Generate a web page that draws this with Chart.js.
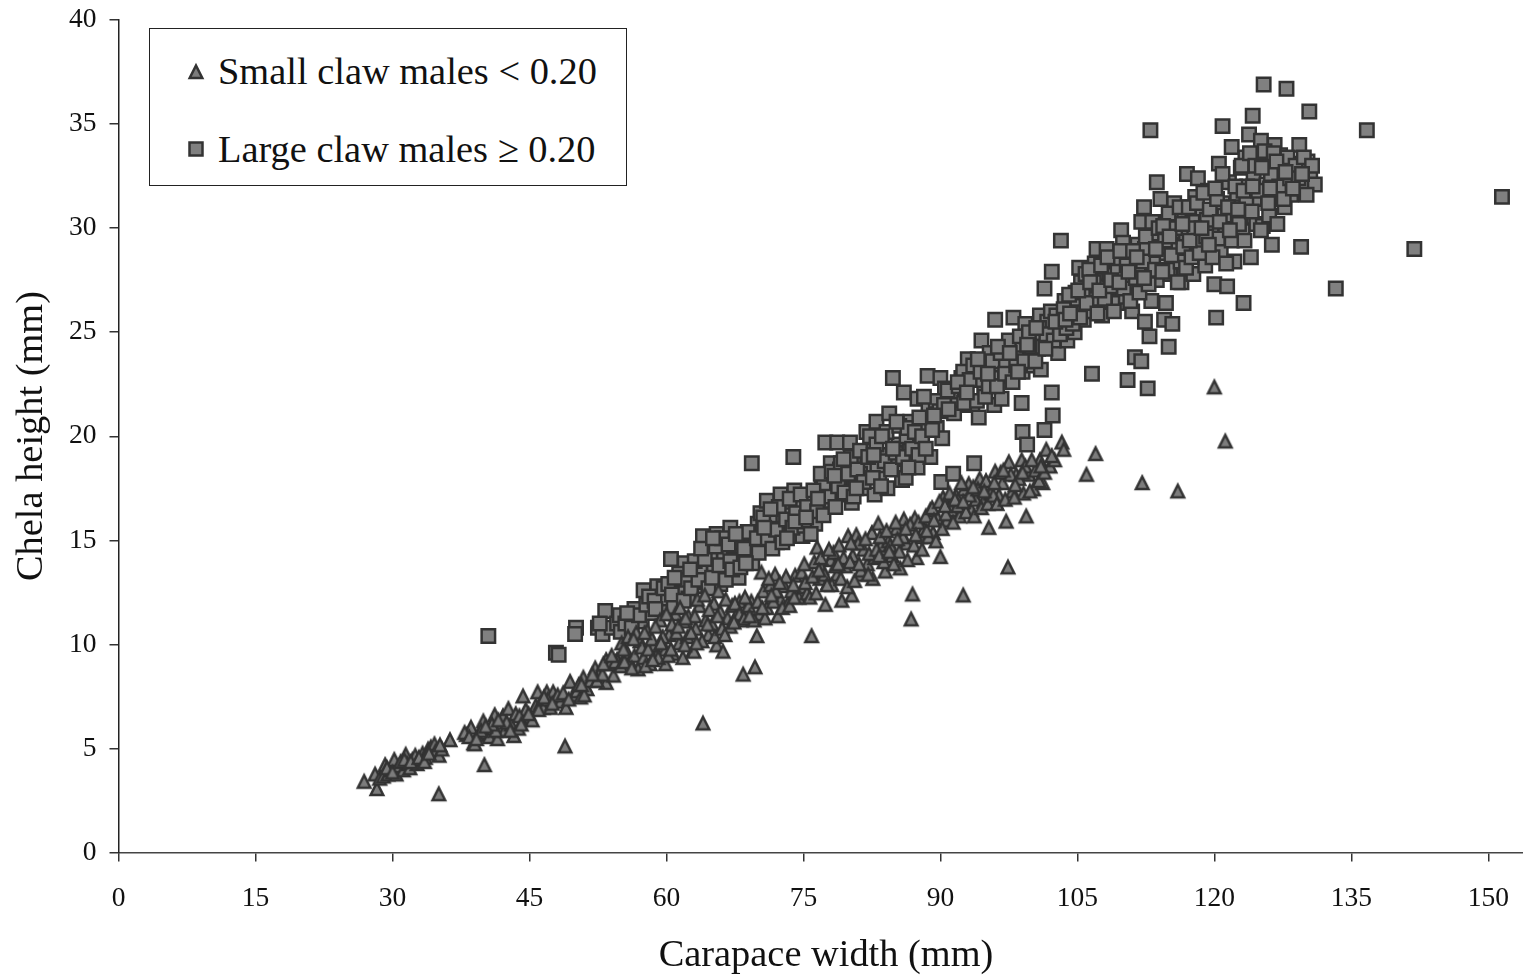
<!DOCTYPE html>
<html>
<head>
<meta charset="utf-8">
<title>Chela height by carapace width</title>
<script src="https://cdn.jsdelivr.net/npm/chart.js@4"></script>
<style>
    html, body { margin: 0; padding: 0; background: #fff; }
    #wrap { position: relative; width: 1523px; height: 979px; overflow: hidden; }
    #legend-box {
        position: absolute; left: 149px; top: 28px; width: 476px; height: 156px;
        border: 1.5px solid #222; background: #fff; color: #111;
        font-family: "Liberation Serif", serif; font-size: 38.4px; white-space: nowrap;
    }
    .legend-row { position: absolute; left: 68px; line-height: 44px; }
    .legend-row svg { position: absolute; left: -32px; top: 12px; }
</style>
</head>
<body>
<div id="wrap">
    <canvas id="myChart" width="1523" height="979"></canvas>
    <div id="legend-box">
        <div class="legend-row" style="top: 20px;">
            <svg width="20" height="20"><polygon points="10,4.5 16.3,17 3.7,17" fill="#7c7c7c" stroke="#333" stroke-width="2.5"/></svg>
            <span id="legend-small"></span>
        </div>
        <div class="legend-row" style="top: 98px;">
            <svg width="20" height="20"><rect x="3.5" y="3.5" width="13" height="13" fill="#808080" stroke="#333" stroke-width="2.5"/></svg>
            <span id="legend-large"></span>
        </div>
    </div>
</div>
<script>
const small_label = 'Small claw males < 0.20';
const large_label = 'Large claw males \u2265 0.20';
const x_title = 'Carapace width (mm)';
const y_title = 'Chela height (mm)';

// [carapace width, chela height]
const small_claw = [
    [26.9,3.45],[28.1,3.8],[28.3,3.1],[28.6,3.6],[29.2,4.25],[29.0,3.7],[29.5,3.8],[29.9,4.0],[30.2,4.5],[30.4,3.8],
    [30.7,4.2],[31.2,4.0],[31.45,4.75],[31.6,4.3],[31.9,4.1],[32.2,4.5],[32.5,4.7],[32.7,4.3],[33,4.5],[33.3,4.8],
    [33.6,4.6],[33.9,5.0],[34.2,5.1],[34.6,5.25],[34.7,4.9],[35.1,4.7],[35.07,2.85],[35.4,5.0],[36.3,5.45],
    [38.1,5.7],[38.6,6.05],[38.9,5.3],[39,5.25],[39.4,5.7],[39.95,6.35],[40.07,4.25],[40.3,5.8],[40.6,5.6],[41,6.0],
    [41.2,6.65],[41.5,5.5],[41.8,6.1],[42.1,6.6],[42.3,5.9],[42.7,6.95],[43,6.2],[43.3,5.65],[43.5,6.7],[43.8,6.0],
    [44.3,7.55],[45,6.5],[45.3,6.4],[45.7,7.1],[45.9,7.75],[46.2,7.2],[46.5,7.0],[46.9,7.75],[47.3,7.0],[47.6,7.75],
    [47.9,7.4],[48.4,7.3],[48.9,5.15],[49,7.0],[49.45,8.25],[49.8,7.6],[50.2,7.8],[50.9,8.45],[50.6,7.5],[51.3,7.9],
    [52.2,8.9],[52.6,8.6],[53.4,9.3],[53.4,8.2],[54.2,8.55],[54.6,9.3],[55.1,10.1],[55.7,9.65],[56,9.2],[56.5,9.5],
    [56.9,8.85],[57.1,10.2],[57.5,9.4],[57.9,10.7],[58.2,9.1],[58.6,10],[58.9,9.5],[59.3,11.2],[59.9,9.8],[59.9,9.1],
    [60.3,10.5],[60.7,9.6],[61,11.5],[61.4,10.1],[61.8,9.4],[61.9,11.15],[62.3,10.4],[62.9,9.75],[63.2,10.8],[63.6,11.9],
    [63,9.7],[64,6.25],[64.3,11.2],[64.6,10.5],[65,11],[65.2,12],[65.5,10],[65.9,11.6],[66.2,9.7],[66.7,11.3],
    [67.2,11.9],[67.6,11.4],[68,12.1],[68.4,8.6],[68.2,11.2],[68.8,11.7],[69.3,12.1],[69.7,8.95],[69.9,10.45],[70.2,11.5],
    [70.4,13.5],[70.6,12.6],[71,11.8],[71.4,12.9],[71.9,13.4],[72.2,11.4],[72.5,12.2],[72.9,12.85],[73.3,12],[73.7,12.6],
    [74.1,13.35],[74.5,12.3],[75,12.8],[75.4,12.5],[75.9,10.45],[76.2,14],[76.5,14.7],[76.8,13.2],[77,13.7],[77.4,11.95],
    [77.7,13],[78,14.1],[78.3,14.45],[78.7,13.4],[79.2,12.15],[79.6,13.8],[79.9,15.25],[80.3,12.4],[80.4,14.3],[80.8,15.3],
    [81.2,13.4],[81.6,14.6],[82,13.9],[82.5,15.4],[82.8,14.2],[83.2,15.85],[83.5,14.8],[83.96,13.55],[84.3,15],[84.7,14.3],
    [85.2,15.6],[85.6,13.7],[86,16.05],[86.3,14.9],[86.8,11.25],[86.95,12.45],[87.2,16.1],[87.4,14.2],[87.8,15.2],[88.2,15.6],
    [88.9,16.5],[89.2,15.4],[89.7,16.1],[90,14.25],[90.3,17.1],[90.7,16],[91.2,16.5],[91.7,17.2],[92.1,16.2],[92.5,12.4],
    [92.6,17.5],[93.1,17.75],[93.4,16.5],[93.9,17],[94.3,18],[94.7,16.9],[95.3,15.65],[95.5,17.3],[96,18.35],[96.4,17.2],
    [96.8,17.8],[97.2,15.95],[97.4,13.75],[97.5,18.8],[97.9,17.4],[98.3,18.2],[98.9,18.9],[99.1,17.3],[99.4,16.2],[99.7,18.2],
    [100.2,17.5],[100.9,18.9],[101.2,17.8],[101.6,19.4],[102,18.6],[102.5,18.9],[103.3,19.75],[103.5,19.4],
    [106,18.2],[107,19.2],[112.1,17.8],[116,17.4],[120,22.4],[121.2,19.8],
    // second pass over the crowded parts of the band
    [50.4,8.1],[51,7.6],[51.7,8.3],[52.4,8.3],[53,8.6],[53.8,9.1],[54.4,9.2],[55,9],[47,7.4],[48.1,7.6],
    [46,6.9],[44.6,6.9],[43.9,6.6],[42.5,6.3],[41.3,5.9],[40.9,6.2],[39.7,5.9],[37.9,5.8],[38.4,5.6],
    [55.4,9.2],[55.8,10.4],[56.2,8.9],[56.7,10.6],[57.3,9.9],[57.7,9],[58,9.8],[58.4,10.3],[58.8,10.9],[59.1,9.4],
    [59.6,10.4],[60,11.5],[60.2,9.5],[60.6,11],[61.1,10.6],[61.5,11.8],[62,10],[62.4,11.4],[62.7,10.6],[63.1,11.4],
    [63.4,12.2],[63.9,10.2],[64.2,12.4],[64.7,11.7],[65.3,10.4],[65.7,12.6],[66.1,10.8],[66.5,12.2],[67,10.9],[67.5,12],
    [68,11.5],[68.5,11.3],[69,11.9],[69.6,11.2],[70,12.1],[70.8,11.3],[71.2,13.2],[71.7,12.1],[72,12.6],[72.7,11.8],
    [73.1,13.3],[73.5,11.9],[74,12.3],[74.8,13.5],[75.2,13],[75.7,12.3],
    [76,13.3],[76.4,12.5],[76.9,14.2],[77.3,13.4],[77.8,14.6],[78.1,12.9],[78.5,13.8],[78.9,14.8],[79.1,13.2],[79.4,14.2],
    [79.8,12.8],[80.1,14],[80.6,13.1],[81,14.9],[81.3,13.6],[81.8,15.1],[82.2,14.4],[82.6,13.2],[83,14.6],[83.4,15.2],
    [83.8,14],[84.1,15.5],[84.5,14.8],[84.9,13.9],[85.1,15.9],[85.5,14.5],[85.9,15.2],[86.4,14.1],[86.7,15.8],[87.1,14.8],
    [87.6,15.9],[88,14.6],[88.4,16.2],[88.7,15.2],[89.1,16.6],[89.5,15],[89.9,16.9],[90.2,15.6],[90.6,16.3],[91,17.3],
    [91.4,15.9],[91.9,16.7],[92.3,17.8],[92.8,16.4],[93.2,17.2],[93.7,16.2],[94.1,17.5],[94.5,16.6],[95,17.9],[95.2,16.8],
    [95.8,17.2],[96.2,16.8],[96.6,18.3],[97.1,17],[97.7,18.2],[98.1,17.1],[98.6,18],[99.3,18.6],[99.8,17.4],[100.4,18.4],
    [100.8,17.9],[101.4,18.3],
    // third pass
    [29.4,4.1],[30,3.9],[30.9,4.4],[31.3,4.5],[32,4.4],[32.9,4.6],[33.5,4.4],[34,4.8],[35.2,5.2],[39.2,5.5],
    [40.2,6.1],[41.6,6.4],[42.9,5.9],[44.1,6.2],[44.9,6.7],[46.6,7.5],[47.5,7.2],[48.7,7.7],[49.3,7.4],[50.7,8.1],
    [51.9,8.6],[53.1,9.1],[54,9.5],[55.3,9.8],[56.4,10.3],[57.6,10.6],[58.5,9.3],[59.4,10.1],[60.5,9.8],[61.3,10.9],
    [62.1,11.3],[63.3,10.1],[64.5,11],[65.6,11.4],[66.4,10.5],[67.4,11.1],[68.6,12.3],[69.1,11.4],[70.5,11.8],[71.5,12.4],
    [72.4,13],[73.9,12.9],[75.1,13.9],[76.7,13.6],[77.6,12.9],[78.8,13.9],[80.2,14.9],[81.1,13.9],[82.1,13.4],[83.3,14.3],
    [84.4,14.5],[85.3,15.1],[86.2,15.6],[87.3,15.3],[88.5,15.5],[89.3,16],[90.5,16.7],[91.6,17],[92.5,16.9],[93.6,17.6],
    [94.8,17.4],[95.9,17.8],[96.9,18.4],[98.2,17.7],[99,18.3],[100,18.9],[101,18.6],[102.2,19.1]
];
const large_claw = [
    [40.5,10.4],[47.9,9.6],[48.2,9.5],[50.1,10.8],[50,10.5],[52.5,10.8],[53,10.5],[53.3,11.6],[54,10.8],[54.6,11],
    [55,10.6],[56,11.2],[56.5,11.7],[57.3,11.1],[57.5,12.6],[58.4,11.5],[59,12.8],[59.4,11.9],[60,12.2],[60.5,14.1],
    [60.8,11.8],[61.2,13],[61.7,12.5],[62,13.9],[62.4,12.2],[62.9,13.4],[63.3,12.8],[63.7,13.6],[64,15.2],[64.4,13],
    [64.8,14.2],[65.5,15.3],[65.2,13.6],[65.9,12.9],[66.3,14.3],[66.7,13.5],[67,15.6],[67.4,14.7],[67.9,13.2],[68.3,15],
    [68.8,14.2],[69.35,18.7],[69.2,15.3],[69.7,14.6],[70,15.8],[70.3,16.3],[70.8,14.8],[71,16.9],[71.3,15.6],[71.8,16.2],
    [72.1,14.9],[72.5,17.2],[72.9,15.9],[73.3,16.5],[73.7,15.2],[73.9,19],[74,17.4],[74.4,16],[74.9,15.2],[75.2,17],
    [75.6,16.1],[76,16.8],[76.3,15.8],[76.7,17.3],[77,18],[77.4,19.7],[77.6,16.9],[78,18.7],[78.3,17.6],[78.7,19.7],
    [78.9,18],[79.3,17.2],[79.7,18.4],[80.1,19.7],[80.3,16.8],[80.6,17.9],[81,18.9],[81.4,17.5],[81.9,20.2],[82,18.6],
    [82.4,19.3],[82.8,17.2],[83,20.7],[83.3,18.2],[83.7,19.1],[84.4,21.1],[84.2,17.5],[84.8,22.8],[85,18.6],[85.4,19.6],
    [86,22.1],[85.8,17.9],[86.3,20],[86.7,20.7],[87,18.7],[87.5,21.8],[87.5,18.5],[87.9,19.6],[88.3,20.6],[88.6,22.9],
    [88.9,19],[89.2,21.6],[89.6,20.4],[90.2,19.9],[90,22.8],[90.5,22.3],[90.1,17.8],[91.4,18.2],[91.2,21.8],[91.9,21.5],
    [92.3,22.8],[92.7,22],[93,23.7],[93.7,18.7],[93.5,21.5],[94.2,20.9],[94.5,24.6],[94.8,22.4],[95.1,23.4],[95.4,24],
    [95.9,21.5],[96,25.6],[96.4,23],[96.7,21.8],[96.9,24],[97.3,22.9],[97.7,23.7],[98,25.7],[98.4,24.1],[98.9,21.6],
    [99,20.2],[99,23.1],[99.3,25.4],[99.5,19.6],[99.8,24],[100.2,23.4],[100.6,24.6],[100.9,25.8],[101,23.2],[101.4,27.1],
    [101.4,20.3],[101.8,24.7],[102.2,27.9],[102.2,22.1],[102.3,21],[102.5,25.2],[102.9,24],[103.2,29.4],[103.4,25.7],[103.6,26.5],
    [103.9,24.6],[104.3,26.2],[104.7,25],[105.2,28.1],[105,26.6],[105.4,27.4],[105.7,25.6],[106.1,27],[106.6,23],[106.5,26],
    [106.9,28.3],[107.1,29],[107.3,26.8],[107.7,25.8],[107.9,27.5],[108.2,29],[108.4,26.5],[108.8,28],[109.1,27.1],[109.5,26.4],
    [109.8,29.9],[110,29.3],[110.2,27.6],[110.5,22.7],[110.7,28.5],[111,26],[111.2,27],[111.3,23.8],[111.6,29.2],[112,23.6],
    [112,30.3],[112.1,27.8],[112.3,31],[112.4,25.5],[112.7,22.3],[112.6,28.6],[112.9,24.8],[113,34.7],[113.1,26.5],[113.4,29.7],
    [113.7,32.2],[113.7,27.5],[114.1,31.4],[114.2,28.8],[114.5,25.6],[114.7,26.4],[114.8,30.3],[115,24.3],[115.2,27.8],[115.4,25.4],
    [115.6,31.2],[115.8,28.4],[116.1,29.6],[116.4,27.4],[116.7,30.8],[117,32.6],[117,28.9],[117.4,29.9],[117.7,27.8],[117.9,31.5],
    [118.2,32.4],[118.3,29.3],[118.7,30.6],[119,28.2],[119.3,31.8],[119.7,29.9],[120,27.3],[120.2,25.7],[120.1,30.7],[120.5,33.1],
    [120.9,34.9],[120.7,28.9],[120.9,31.2],[121.2,29.9],[121.4,27.2],[121.6,32.2],[121.9,33.9],[121.8,30.4],[122.2,28.4],[122.5,31.4],
    [122.9,32.9],[123.2,26.4],[123.1,29.9],[123.4,33.4],[123.8,34.5],[123.7,31],[124,28.6],[124.2,35.4],[124.3,32.5],[124.6,30.2],
    [124.9,33.4],[125.1,34.2],[125.4,36.9],[125.3,30.1],[125.7,32.1],[126,30.6],[126.3,29.2],[126.3,33.1],[126.6,34],[126.9,31.4],
    [127.2,33.5],[127.5,32.3],[127.9,36.7],[127.7,31],[128.1,33],[128.4,31.6],[128.7,32.8],[129.1,31.9],[129.3,34],[129.5,29.1],
    [129.5,33.1],[129.9,32.2],[130.2,33.2],[130.4,35.6],[130.5,32.6],[131,32.1],[133.3,27.1],[136.7,34.7],[141.9,29],[151.5,31.5],
    // dense middle of the top cloud
    [104.8,26.9],[105.9,27.8],[106.7,26.6],[107.5,27.2],[108.5,27.8],[109.2,28.4],[110.3,26.7],[110.9,27.4],[111.7,28.2],[112.4,29],
    [113.3,28.3],[114,29.1],[114.9,28],[115.5,29.2],[116.3,28.4],[116.9,29.6],[117.6,30.3],[118.5,29.4],[119.2,30.4],[120.4,29.5],
    [121.1,30.6],[122.1,31],[122.9,30.5],[123.6,32],[124.4,31.4],[125.6,33],[126.7,32.5],[127.4,33],
    [92.5,23.1],[93.9,22.7],[95.6,22.8],[97,23.6],[98.1,24.4],[99.6,24.8],[100.7,24.2],[101.7,25.5],[103,25.4],[104,25.5],
    [69,14.4],[70.5,15.4],[72.8,16.2],[74.6,16.7],[77.2,17.6],[79,18.4],[81.2,18.2],[83.1,18.6],[85.3,18.9],[86.6,19.3],
    // second pass over the crowded parts of the band
    [54.9,11.4],[55.5,11],[56.2,10.8],[57,11.4],[57.8,11.9],[58.1,12.3],[58.7,12.1],[59.7,12.7],[60.2,12.9],[60.6,12.4],
    [61.4,13.4],[61.9,12.1],[62.2,13.1],[62.7,12.7],[63.1,14],[63.5,13.1],[64.2,14.1],[64.6,12.7],[65,13.2],[65.4,14.7],
    [65.8,13.8],[66.1,15.1],[66.5,13.1],[67,14],[67.2,13.6],[67.7,14.9],[68.1,13.7],[68.5,14.6],[68.9,15.4],[69.4,13.9],[69.9,15.1],
    [70.1,14.4],[70.6,16.1],[71.1,15.1],[71.6,14.6],[72,15.5],[72.3,16.6],[72.7,14.9],[73.1,16],[73.5,17],[73.8,15.6],
    [74.2,16.3],[74.7,17.2],[75.1,15.7],[75.4,16.6],[75.8,15.3],[76.1,17.4],[76.5,16.4],[76.9,18.2],[77.2,16.2],[77.8,17.1],
    [78.1,18.3],[78.5,16.6],[78.8,17.6],[79.1,18.7],[79.5,17.3],[79.9,18.2],[80.2,19],[80.5,17.1],[80.9,18.4],[81.2,19.3],
    [81.6,17.8],[82.1,19],[82.3,20],[82.6,18],[83,19.6],[83.5,17.6],[83.9,18.8],[84.1,20.2],[84.6,18.4],[85.1,19.2],
    [85.5,20.5],[85.9,19],[86.2,18],[86.4,20.4],[86.9,19.4],[87.2,20.2],[87.6,19.1],[88,20],[88.4,19.4],[88.7,21.3],
    [89.1,20.3],[89.5,21.7],[89.9,21.2],
    [90.4,21.5],[90.8,22.2],[91.5,21.1],[92,22.4],[92.6,21.6],[93.2,22.7],[93.6,23.4],[94,21.7],[94.4,23.1],[94.9,21.9],
    [95.3,22.4],[95.7,23.6],[96.2,22.4],[96.6,24],[97.1,23],[97.5,24.6],[97.9,22.6],[98.3,23.4],[98.7,24.8],[99.2,23.6],
    [99.7,25],[100,24.3],[100.4,23.6],[100.8,25.2],[101.2,24.3],[101.6,24.9],[102.1,26],[102.4,24.6],[102.7,25.8],[103.1,24.9],
    [103.5,26.1],[103.8,25.2],[104.1,26.8],[104.5,25.4],
    [105.3,25.7],[105.6,27],[106,26.4],[106.3,28],[106.8,27.4],[107.2,25.9],[107.6,28.2],[108,26.6],[108.3,28.6],[108.6,27.2],
    [109,26],[109.4,27.9],[109.7,28.9],[110.1,27.1],[110.4,28.2],[110.8,26.5],[111.1,28.9],[111.4,27.6],[111.8,26.9],[112.2,28.4],
    [112.5,29.6],[112.8,27.3],[113.2,30.3],[113.5,28],[113.9,30],[114.3,27.9],[114.6,29.4],[115,30.7],[115.3,28.7],[115.7,30],
    [116,27.4],[116.2,31],[116.6,29.1],[116.9,28.1],[117.2,31],[117.5,28.6],[117.8,30],[118.1,31.2],[118.4,28.8],[118.8,31.7],
    [119.1,29.6],[119.5,30.9],[119.8,28.6],[120.3,31.4],[120.6,30.3],[120.9,32.6],[121.3,28.3],[121.5,31],[121.9,29.4],[122.3,32],
    [122.7,30.2],[123,33],[123.3,29.4],[123.5,31.4],[123.9,33.6],[124.1,30.8],[124.5,33],[124.8,31.8],[125.1,29.9],[125.5,33.7],
    [125.9,31.2],[126.2,32.6],[126.5,33.6],[126.9,30.2],[127.1,32],[127.6,31.4],[128,33.4],[128.3,32.4],[128.9,33],[129.2,32.4],
    [129.8,33.4],[130.1,31.6],[130.7,33],
    // third pass
    [52.7,11],[55.7,11.5],[58.8,11.7],[60.9,13.2],[62.6,13.6],[63.8,14.6],[65.1,15.1],[66.8,14.8],[67.6,15.3],[68.7,13.9],
    [70.7,15.6],[71.4,16.5],[73.2,15.1],[74.1,15.9],[75.3,16.1],[76.6,17],[78.4,18.1],[79.4,18.9],[80.8,17.5],[82.7,19.1],
    [83.6,20],[84.8,19.4],[85.2,20.7],[86.5,18.5],[87.7,20.9],[88.2,21.9],[89.3,21],[90.9,21.3],[91.9,22.6],[92.9,22.1],
    [94.1,23.7],[95.2,23],[96.3,24.3],[97.6,24],[98.5,23.1],[99.5,24.4],[100.5,25.2],[101.5,24.2],[102.6,25.5],[103.7,25.6],
    [104.2,25.9],[105.1,27],[106.4,27.4],[107.4,27],[108.7,27.5],[109.6,27.4],[110.6,27.9],[111.5,28.6],[112.3,27.6],[113.6,29],
    [114.4,30.1],[115.1,29.6],[116.5,30.2],[117.3,29.4],[118.6,30],[119.4,29.2],[120.1,31.9],[121.7,29.9],[122.6,30.9],[123.2,31.8],
    [124.2,32],[125.2,32.9],[126.1,31.9],[126.8,33.2],[127.8,32.7],[128.6,31.9],[129.6,32.6]
];

document.getElementById('legend-small').innerText = small_label;
document.getElementById('legend-large').innerText = large_label;

// chart.js centres its own triangle on the circumcentre, the original centres on the box
function make_triangle_marker() {
    let cv = document.createElement('canvas');
    cv.width = 20;
    cv.height = 20;
    let c = cv.getContext('2d');
    c.beginPath();
    c.moveTo(10, 4.5);
    c.lineTo(16.3, 17);
    c.lineTo(3.7, 17);
    c.closePath();
    c.fillStyle = '#7c7c7c';
    c.fill();
    c.lineWidth = 2.5;
    c.strokeStyle = '#333';
    c.stroke();
    return cv;
}

// axis titles sit a little off the axis centre in the original
const axis_titles = {
    id: 'axis_titles',
    afterDraw(chart) {
        const c = chart.ctx;
        c.save();
        c.fillStyle = '#111';
        c.font = '38.4px "Liberation Serif"';
        c.textAlign = 'center';
        c.textBaseline = 'middle';
        c.fillText(x_title, 826, 956);
        c.translate(32, 436);
        c.rotate(-Math.PI / 2);
        c.fillText(y_title, 0, 0);
        c.restore();
    }
};

const tick_font = { family: '"Liberation Serif"', size: 27.5 };

let chart = new Chart(document.getElementById('myChart'), {
    type: 'scatter',
    data: {
        datasets: [
            {
                label: small_label,
                data: small_claw.map(p => ({ x: p[0], y: p[1] })),
                pointStyle: make_triangle_marker(),
                pointRadius: 8,
                backgroundColor: '#7c7c7c',
                borderColor: '#333'
            },
            {
                label: large_label,
                data: large_claw.map(p => ({ x: p[0], y: p[1] })),
                pointStyle: 'rect',
                pointRadius: 9.5,
                backgroundColor: '#808080',
                borderColor: '#333',
                borderWidth: 2.5
            }
        ]
    },
    options: {
        responsive: false,
        animation: false,
        layout: { autoPadding: false, padding: { top: 20, right: 0, left: 0, bottom: 0 } },
        plugins: { legend: { display: false }, tooltip: { enabled: false } },
        scales: {
            x: {
                type: 'linear',
                min: 0,
                max: 153.8,
                border: { color: '#444', width: 1.5 },
                grid: { drawOnChartArea: false, tickLength: 9, color: '#333', lineWidth: 1.5 },
                ticks: { stepSize: 15, includeBounds: false, color: '#111', font: tick_font, padding: 21, maxRotation: 0, autoSkip: false },
                afterFit: scale => { scale.height = 126.5; scale.paddingLeft = 0; scale.paddingRight = 0; }
            },
            y: {
                min: 0,
                max: 40,
                border: { color: '#222', width: 1.5 },
                grid: { drawOnChartArea: false, tickLength: 9, color: '#333', lineWidth: 1.5 },
                ticks: { stepSize: 5, color: '#111', font: tick_font, padding: 13 },
                afterFit: scale => { scale.width = 118.5; scale.paddingTop = 0; scale.paddingBottom = 0; }
            }
        }
    },
    plugins: [axis_titles]
});
</script>
</body>
</html>
